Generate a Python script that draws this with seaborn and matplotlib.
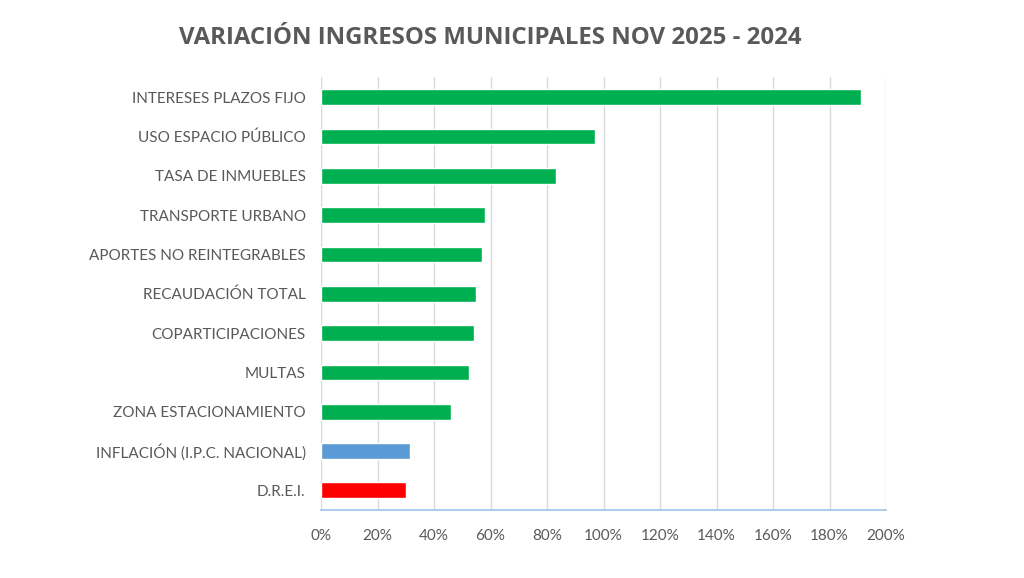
import matplotlib
matplotlib.use("Agg")
import matplotlib.pyplot as plt
import seaborn as sns
import pandas as pd
from matplotlib.ticker import PercentFormatter

# Datos (variacion % nov 2025 vs 2024)
categorias = [
    "INTERESES PLAZOS FIJO",
    "USO ESPACIO PÚBLICO",
    "TASA DE INMUEBLES",
    "TRANSPORTE URBANO",
    "APORTES NO REINTEGRABLES",
    "RECAUDACIÓN TOTAL",
    "COPARTICIPACIONES",
    "MULTAS",
    "ZONA ESTACIONAMIENTO",
    "INFLACIÓN (I.P.C. NACIONAL)",
    "D.R.E.I.",
]
variacion = [191, 97, 83, 58, 57, 55, 54, 52.5, 46, 31.5, 30]
colores = ["#00B050"] * 9 + ["#5B9BD5", "#FF0000"]

df = pd.DataFrame({"categoria": categorias, "variacion": variacion})

sns.set_style("white")
plt.rcParams["font.family"] = ["Lato", "DejaVu Sans"]

fig = plt.figure(figsize=(10.24, 5.78), dpi=100)
ax = fig.add_axes([0.3135, 0.1176, 0.5518, 0.7484])

sns.barplot(data=df, x="variacion", y="categoria", hue="categoria",
            palette=colores, legend=False, width=0.4, saturation=1, ax=ax,
            order=categorias, hue_order=categorias)

ax.set_xlim(0, 200)
ax.set_xticks(range(0, 201, 20))
ax.xaxis.set_major_formatter(PercentFormatter(decimals=0))
ax.grid(axis="x", color="#D9D9D9", linewidth=1)
ax.set_axisbelow(True)
for s in ["top", "right", "left"]:
    ax.spines[s].set_visible(False)
ax.spines["bottom"].set_color("#9DC3E6")
ax.spines["bottom"].set_linewidth(1.2)
ax.set_xlabel("")
ax.set_ylabel("")
ax.tick_params(axis="both", length=0, labelsize=11, colors="#595959")
ax.tick_params(axis="y", pad=11)
ax.tick_params(axis="x", pad=14)

fig.text(0.479, 0.934, "VARIACIÓN INGRESOS MUNICIPALES NOV 2025 - 2024",
         ha="center", va="center", fontsize=17.3, fontweight="bold",
         color="#595959", family=["Open Sans", "DejaVu Sans"])

fig.savefig("out.png", dpi=100)
